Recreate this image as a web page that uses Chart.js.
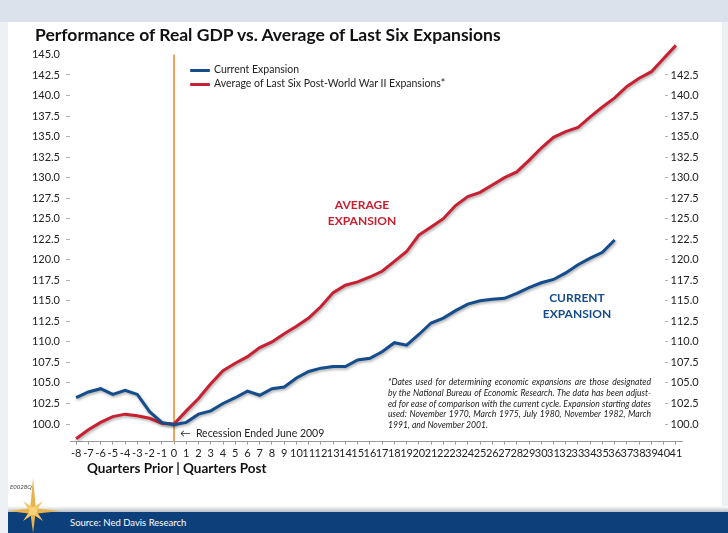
<!DOCTYPE html>
<html lang="en">
<head>
    <meta charset="UTF-8">
    <title>Performance of Real GDP vs. Average of Last Six Expansions</title>
    <script src="https://cdn.jsdelivr.net/npm/chart.js@4.4.0/dist/chart.umd.min.js"></script>
    <style>
        body { margin: 0; width: 728px; height: 533px; overflow: hidden; background: #edf0f5; font-family: Lato, "Noto Sans", sans-serif; position: relative; }
        .band { position: absolute; left: 0; top: 0; width: 728px; height: 22px; background: #dbe2ec; }
        .panel { position: absolute; left: 8px; top: 22px; width: 714px; height: 490px; background: #fff; }
        .rule { position: absolute; left: 8px; top: 506px; width: 720px; height: 6px; background: linear-gradient(#ffffff, #b9bec6); }
        .footer { position: absolute; left: 8px; top: 512px; width: 720px; height: 21px; background: #0d3f7a; }
        .footer span { position: absolute; left: 62px; top: 5px; color: #fff; font-size: 9.5px; }
        canvas { position: absolute; left: 0; top: 0; }
        .txt { position: absolute; white-space: nowrap; color: #222; }
        .title { left: 35px; top: 24px; font-size: 17.5px; font-weight: bold; color: #111; }
        .legend { left: 190px; font-size: 10.5px; }
        .legend i { display: inline-block; width: 20px; height: 3px; margin-right: 4px; vertical-align: middle; border-radius: 1px; }
        .note { font-size: 12px; font-weight: bold; text-align: center; line-height: 16px; }
        .foot { left: 388px; top: 377px; width: 263px; font-size: 8.6px; font-style: italic; line-height: 10.8px; color: #222; white-space: normal; }
        .foot div { text-align: justify; text-align-last: justify; white-space: nowrap; }
        .foot div:last-child { text-align-last: left; }
        .xtitle { left: 87px; top: 460px; font-size: 13.5px; font-weight: bold; color: #111; }
        .code { left: 10px; top: 483px; font-size: 6px; font-style: italic; color: #444; }
        .recess { left: 180px; top: 427px; font-size: 10.5px; color: #222; }
    </style>
</head>
<body>
    <div class="band"></div>
    <div class="panel"></div>
    <div class="rule"></div>
    <div class="footer"><span>Source: Ned Davis Research</span></div>
    <svg style="position:absolute;left:8px;top:478px" width="52" height="55" viewBox="0 0 52 55">
        <polygon points="25,0 28,32 25,55 22,32" fill="#e9b24c"/>
        <polygon points="0,33 25,30 52,33 25,36" fill="#e9b24c"/>
        <polygon points="15,23 27,31 35,43 23,35" fill="#f3c766"/>
        <polygon points="35,23 27,35 15,43 23,31" fill="#f3c766"/>
        <circle cx="25" cy="33" r="4" fill="#f7d37a"/>
    </svg>
    <canvas id="gdpChart" width="728" height="533"></canvas>

    <div class="txt title">Performance of Real GDP vs. Average of Last Six Expansions</div>
    <div class="txt legend" style="top:63px"><i style="background:#144c8c"></i>Current Expansion</div>
    <div class="txt legend" style="top:77px"><i style="background:#c62032"></i>Average of Last Six Post-World War II Expansions*</div>
    <div class="txt note" style="left:322px;top:197px;width:80px;color:#c62032">AVERAGE<br>EXPANSION</div>
    <div class="txt note" style="left:537px;top:290px;width:80px;color:#144c8c">CURRENT<br>EXPANSION</div>
    <div class="txt foot">
        <div>*Dates used for determining economic expansions are those designated</div>
        <div>by the National Bureau of Economic Research. The data has been adjust-</div>
        <div>ed for ease of comparison with the current cycle. Expansion starting dates</div>
        <div>used: November 1970, March 1975, July 1980, November 1982, March</div>
        <div>1991, and November 2001.</div>
    </div>
    <div class="txt recess">&larr;&nbsp; Recession Ended June 2009</div>
    <div class="txt xtitle">Quarters Prior | Quarters Post</div>
    <div class="txt code">E0028Q</div>

    <script>
        // quarters relative to the end of the recession (June 2009)
        const quarters = [-8, -7, -6, -5, -4, -3, -2, -1, 0, 1, 2, 3, 4, 5, 6, 7, 8, 9, 10,
            11, 12, 13, 14, 15, 16, 17, 18, 19, 20, 21, 22, 23, 24, 25, 26, 27, 28, 29, 30,
            31, 32, 33, 34, 35, 36, 37, 38, 39, 40, 41];

        // real GDP indexed to 100 at the trough
        const currentExpansion = [103.2, 103.9, 104.3, 103.6, 104.1, 103.6, 101.5, 100.2, 99.9,
            100.2, 101.2, 101.6, 102.5, 103.2, 104.0, 103.5, 104.3, 104.5, 105.6,
            106.4, 106.8, 107.0, 107.0, 107.8, 108.0, 108.8, 109.9, 109.6, 110.9,
            112.3, 112.9, 113.8, 114.6, 115.0, 115.2, 115.3, 115.9, 116.6, 117.2,
            117.6, 118.4, 119.4, 120.2, 120.9, 122.4, null, null, null, null, null];

        const averageExpansion = [98.2, 99.3, 100.2, 100.9, 101.2, 101.0, 100.7, 100.1, 100.0,
            101.6, 103.1, 104.9, 106.5, 107.4, 108.2, 109.3, 110.0, 111.0, 111.9,
            112.9, 114.3, 116.0, 116.9, 117.3, 117.9, 118.6, 119.8, 121.0, 123.0,
            124.0, 125.0, 126.6, 127.7, 128.2, 129.1, 130.0, 130.7, 132.1, 133.6,
            134.9, 135.6, 136.1, 137.4, 138.6, 139.7, 141.1, 142.1, 142.9, 144.5, 146.1];

        const leftTicks = [100.0, 102.5, 105.0, 107.5, 110.0, 112.5, 115.0, 117.5, 120.0,
            122.5, 125.0, 127.5, 130.0, 132.5, 135.0, 137.5, 140.0, 142.5, 145.0];
        const rightTicks = [100.0, 102.5, 105.0, 107.5, 110.0, 112.5, 115.0, 117.5, 120.0,
            122.5, 125.0, 127.5, 130.0, 132.5, 135.0, 137.5, 140.0, 142.5];

        const noPad = s => { s.paddingTop = 0; s.paddingBottom = 0; s.paddingLeft = 0; s.paddingRight = 0; };

        // soft drop shadow under both lines
        const lineShadow = {
            id: 'lineShadow',
            beforeDatasetDraw(chart) {
                const ctx = chart.ctx;
                ctx.save();
                ctx.shadowColor = 'rgba(0,0,0,0.35)';
                ctx.shadowBlur = 3;
                ctx.shadowOffsetX = 1;
                ctx.shadowOffsetY = 1.5;
            },
            afterDatasetDraw(chart) {
                chart.ctx.restore();
            }
        };

        // orange marker at the end of the recession
        const troughLine = {
            id: 'troughLine',
            beforeDatasetsDraw(chart) {
                const ctx = chart.ctx;
                const x = chart.scales.x.getPixelForValue(0);
                ctx.save();
                ctx.strokeStyle = '#f0a35e';
                ctx.lineWidth = 2;
                ctx.beginPath();
                ctx.moveTo(x, chart.scales.y.getPixelForValue(145));
                ctx.lineTo(x, chart.chartArea.bottom);
                ctx.stroke();
                ctx.restore();
            }
        };

        const tickFont = { family: 'Lato', size: 11 };
        const yRange = { min: 97.87, max: 146.27 };

        new Chart(document.getElementById('gdpChart'), {
            type: 'line',
            data: {
                labels: quarters,
                datasets: [{
                    label: 'Current Expansion',
                    data: currentExpansion,
                    borderColor: '#144c8c',
                    borderWidth: 3,
                    pointRadius: 0,
                    tension: 0,
                    clip: false
                }, {
                    label: 'Average of Last Six Post-World War II Expansions*',
                    data: averageExpansion,
                    borderColor: '#c62032',
                    borderWidth: 3,
                    pointRadius: 0,
                    tension: 0,
                    clip: false
                }]
            },
            options: {
                responsive: false,
                animation: false,
                layout: { padding: { left: 0, right: 46, top: 44, bottom: 71.5 } },
                plugins: {
                    legend: { display: false },
                    tooltip: { enabled: false }
                },
                scales: {
                    x: {
                        type: 'linear',
                        min: -8.5,
                        max: 41.5,
                        afterBuildTicks: s => { s.ticks = quarters.map(v => ({ value: v })); },
                        afterFit: s => { noPad(s); s.height = 20; },
                        ticks: {
                            autoSkip: false, maxRotation: 0, minRotation: 0,
                            padding: 2, color: '#222', font: tickFont,
                            callback: v => String(v)
                        },
                        grid: { drawOnChartArea: false, tickLength: 3, color: '#9a9a9a' },
                        border: { display: true, color: '#9a9a9a', width: 1 }
                    },
                    y: {
                        position: 'left',
                        ...yRange,
                        afterBuildTicks: s => { s.ticks = leftTicks.map(v => ({ value: v })); },
                        afterFit: s => { noPad(s); s.width = 70; },
                        ticks: { padding: 6, color: '#222', font: tickFont, callback: v => v.toFixed(1) },
                        grid: {
                            drawOnChartArea: false, tickLength: 4,
                            color: c => (c.tick && c.tick.value === 145 ? 'rgba(0,0,0,0)' : '#b5b5b5')
                        },
                        border: { display: false }
                    },
                    // right axis dashes sit inside the plot
                    yDash: {
                        position: { x: 40.32 },
                        ...yRange,
                        afterBuildTicks: s => { s.ticks = rightTicks.map(v => ({ value: v })); },
                        afterFit: noPad,
                        ticks: { display: false },
                        grid: { drawOnChartArea: false, tickLength: 3, color: '#b5b5b5' },
                        border: { display: false }
                    },
                    // right axis labels
                    yRight: {
                        position: { x: 42.86 },
                        ...yRange,
                        afterBuildTicks: s => { s.ticks = rightTicks.map(v => ({ value: v })); },
                        afterFit: noPad,
                        ticks: { color: '#222', font: tickFont, callback: v => v.toFixed(1) },
                        grid: { display: false },
                        border: { display: false }
                    }
                }
            },
            plugins: [troughLine, lineShadow]
        });
    </script>
</body>
</html>
